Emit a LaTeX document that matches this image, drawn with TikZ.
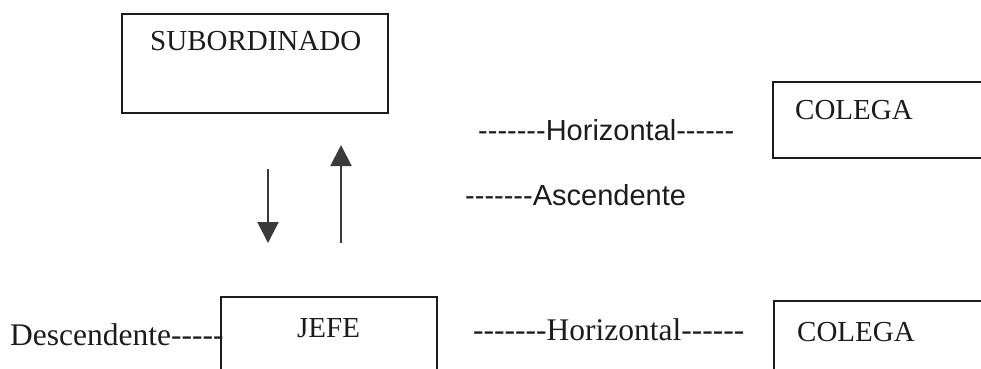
\documentclass[tikz,border=0pt]{standalone}
\usepackage{fontspec}
\newfontfamily\tnr[Ligatures=TeXOff]{Liberation Serif}
\newfontfamily\ari[Ligatures=TeXOff]{Liberation Sans}
\usetikzlibrary{arrows.meta}
\definecolor{ink}{HTML}{1C1C1C}
\definecolor{arrowgray}{HTML}{3A3A3A}
\tikzset{
  box/.style={draw=ink, line width=1.2pt, inner sep=0pt, rectangle},
  serif/.style={text=ink, inner sep=0pt, anchor=base west, font=\tnr\fontsize{29}{30}\selectfont},
  bigserif/.style={text=ink, inner sep=0pt, anchor=base west, font=\tnr\fontsize{31.5}{33}\selectfont},
  sans/.style={text=ink, inner sep=0pt, anchor=base west, font=\ari\fontsize{29}{30}\selectfont},
  flow/.style={draw=arrowgray, line width=2pt, -{Triangle[width=21pt,length=21pt]}}
}
\begin{document}
\begin{tikzpicture}[x=1pt,y=-1pt]
\clip (0,0) rectangle (981,368);
% boxes
\node[box, minimum width=266pt, minimum height=99pt] (sub) at (255,63.5) {};
\node[box, minimum width=220pt, minimum height=76pt] (colega1) at (883,120) {};
\node[box, minimum width=216pt, minimum height=90pt] (jefe) at (329,342) {};
\node[box, minimum width=220pt, minimum height=90pt] (colega2) at (884,346) {};
% texts
\node[serif] (tsub) at (150,50) {SUBORDINADO};
\node[serif] (tcol1) at (795,119) {COLEGA};
\node[serif] (tjefe) at (297,337) {JEFE};
\node[serif] (tcol2) at (797,341) {COLEGA};
\node[sans] (hor1) at (478,140) {-------Horizontal------};
\node[sans] (asc) at (465,205) {-------Ascendente};
\node[bigserif] (desc) at (10,345) {Descendente-----};
\node[bigserif] (hor2) at (473,340) {-------Horizontal------};
% arrows
\coordinate (d1) at (268,169);
\coordinate (d2) at (268,243);
\coordinate (u1) at (341,243);
\coordinate (u2) at (341,145);
\draw[flow] (d1) -- (d2);
\draw[flow] (u1) -- (u2);
\end{tikzpicture}
\end{document}
